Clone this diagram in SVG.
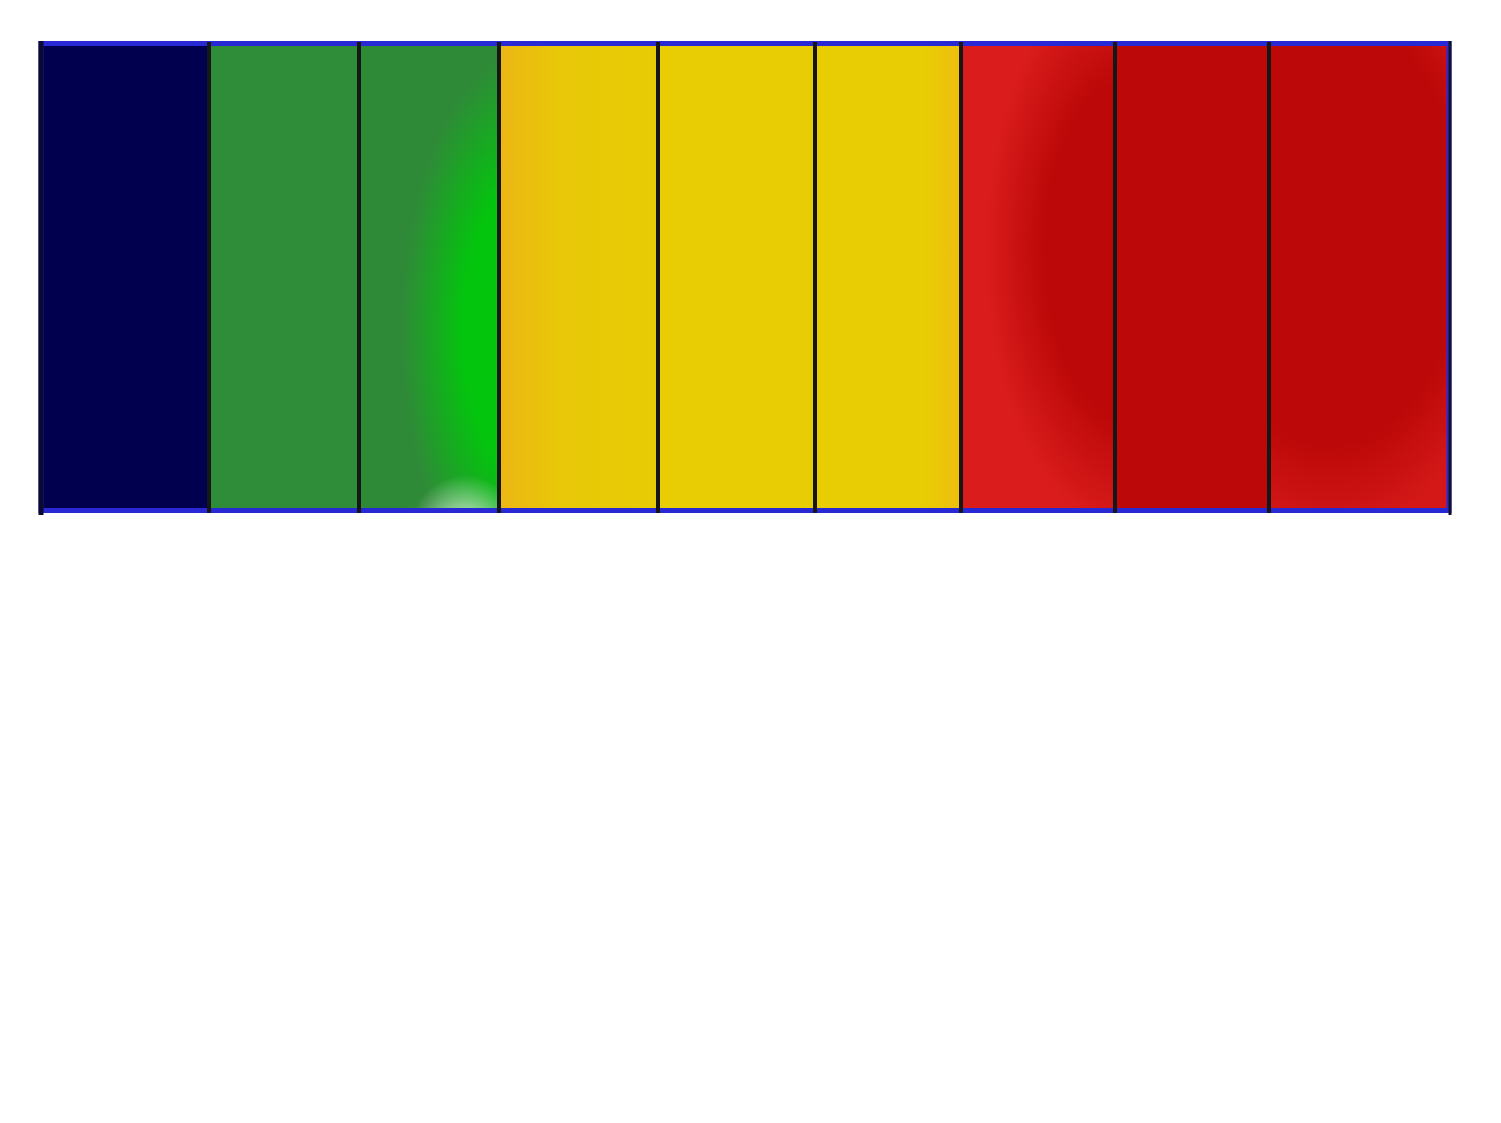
<svg xmlns="http://www.w3.org/2000/svg" width="1501" height="1123" viewBox="0 0 1501 1123">
<style>
.div{stroke:#161616;stroke-width:4;fill:none}
</style>
<defs>
<radialGradient id="g2" gradientUnits="userSpaceOnUse" cx="530" cy="330" r="150" gradientTransform="translate(530 330) scale(1 2.2) translate(-530 -330)">
<stop offset="0" stop-color="#00c80a"/>
<stop offset="0.45" stop-color="#04c40e"/>
<stop offset="0.85" stop-color="#2f8a38"/>
<stop offset="1" stop-color="#2f8a38"/>
</radialGradient>
<radialGradient id="g2b" gradientUnits="userSpaceOnUse" cx="465" cy="530" r="55">
<stop offset="0" stop-color="#ffffff" stop-opacity="0.85"/>
<stop offset="1" stop-color="#ffffff" stop-opacity="0"/>
</radialGradient>
<linearGradient id="y1" x1="0" y1="0" x2="1" y2="0">
<stop offset="0" stop-color="#ecb614"/>
<stop offset="0.4" stop-color="#e8c808"/>
<stop offset="1" stop-color="#e8cc04"/>
</linearGradient>
<linearGradient id="y3" x1="0" y1="0" x2="1" y2="0">
<stop offset="0.75" stop-color="#e8cc04"/>
<stop offset="1" stop-color="#eebe10"/>
</linearGradient>
<radialGradient id="r1" gradientUnits="userSpaceOnUse" cx="1135" cy="250" r="150" gradientTransform="translate(1135 250) scale(1 1.9) translate(-1135 -250)">
<stop offset="0.6" stop-color="#bc0808"/>
<stop offset="1" stop-color="#da1c1c"/>
</radialGradient>
<radialGradient id="r3" gradientUnits="userSpaceOnUse" cx="1330" cy="230" r="190" gradientTransform="translate(1330 230) scale(1 1.6) translate(-1330 -230)">
<stop offset="0.7" stop-color="#bc0808"/>
<stop offset="1" stop-color="#d41818"/>
</radialGradient>
</defs>
<rect width="1501" height="1123" fill="#ffffff"/>
<g id="stripes">
<rect id="s1" x="42" y="44" width="167" height="467" fill="#00004e"/>
<rect id="s2" x="209" y="44" width="150" height="467" fill="#2f8c38"/>
<rect id="s3" x="359" y="44" width="140" height="467" fill="url(#g2)"/>
<rect id="s3b" x="359" y="44" width="140" height="467" fill="url(#g2b)"/>
<rect id="s4" x="499" y="44" width="159" height="467" fill="url(#y1)"/>
<rect id="s5" x="658" y="44" width="157" height="467" fill="#e8cc04"/>
<rect id="s6" x="815" y="44" width="146" height="467" fill="url(#y3)"/>
<rect id="s7" x="961" y="44" width="154" height="467" fill="url(#r1)"/>
<rect id="s8" x="1115" y="44" width="154" height="467" fill="#bc0808"/>
<rect id="s9" x="1269" y="44" width="181" height="467" fill="url(#r3)"/>
</g>
<g id="frame">
<rect x="41" y="43.5" width="1408" height="467" fill="none" stroke="#2828d4" stroke-width="5"/>
<line x1="41" y1="41" x2="41" y2="515" stroke="#0a0a30" stroke-width="5"/>
<line x1="1450" y1="41" x2="1450" y2="515" stroke="#101030" stroke-width="3"/>
</g>
<g id="connectors">
<line class="div" x1="209" y1="42" x2="209" y2="513"/>
<line class="div" x1="359" y1="42" x2="359" y2="513"/>
<line class="div" x1="499" y1="42" x2="499" y2="513"/>
<line class="div" x1="658" y1="42" x2="658" y2="513"/>
<line class="div" x1="815" y1="42" x2="815" y2="513"/>
<line class="div" x1="961" y1="42" x2="961" y2="513"/>
<line class="div" x1="1115" y1="42" x2="1115" y2="513"/>
<line class="div" x1="1269" y1="42" x2="1269" y2="513"/>
</g>
</svg>
